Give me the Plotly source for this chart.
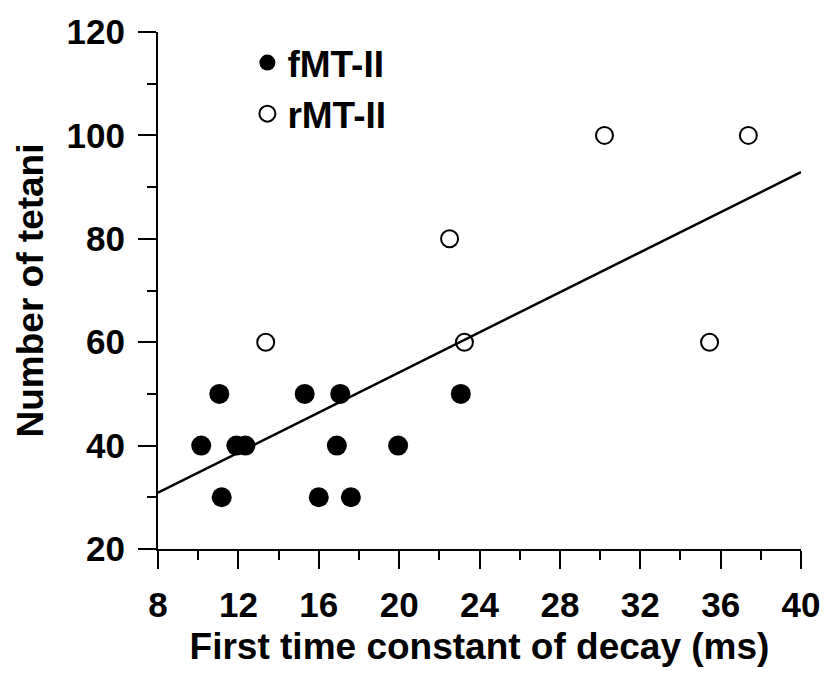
import plotly.graph_objects as go

# fMT-II (filled)
f_x = [11.05, 15.3, 17.07, 23.07, 10.15, 11.9, 12.35, 16.9, 19.95, 11.17, 16.0, 17.6]
f_y = [50, 50, 50, 50, 40, 40, 40, 40, 40, 30, 30, 30]
# rMT-II (open)
r_x = [13.36, 23.25, 35.45, 22.51, 30.22, 37.38]
r_y = [60, 60, 60, 80, 100, 100]
# regression line end points
fit_x = [8, 40]
fit_y = [30.9, 92.9]

x_ticks = [8, 12, 16, 20, 24, 28, 32, 36, 40]
y_ticks = [20, 40, 60, 80, 100, 120]

FONT = "Liberation Sans"

fig = go.Figure()
fig.add_trace(go.Scatter(x=fit_x, y=fit_y, mode="lines",
                         line=dict(color="black", width=2.5), showlegend=False))
fig.add_trace(go.Scatter(x=f_x, y=f_y, mode="markers", name="<b>fMT-II</b>",
                         marker=dict(symbol="circle", size=20, color="black")))
fig.add_trace(go.Scatter(x=r_x, y=r_y, mode="markers", name="<b>rMT-II</b>",
                         marker=dict(symbol="circle-open", size=17, color="black",
                                     line=dict(width=2, color="black"))))

axis_common = dict(showgrid=False, zeroline=False, showline=True, linecolor="black",
                   linewidth=2, ticks="outside", ticklen=18, tickwidth=2,
                   tickcolor="black", mirror=False)

fig.update_xaxes(range=[8, 40], tickvals=x_ticks, ticktext=[f"<b>{v}</b>" for v in x_ticks],
                 tickfont=dict(family=FONT, size=35, color="black"),
                 ticklabelstandoff=6,
                 minor=dict(ticks="outside", ticklen=9, tickwidth=2, tickcolor="black", dtick=2, tick0=8),
                 title=dict(text="<b>First time constant of decay (ms)</b>",
                            font=dict(family=FONT, size=37, color="black"), standoff=10),
                 **axis_common)
fig.update_yaxes(range=[20, 120], tickvals=y_ticks, ticktext=[f"<b>{v}</b>" for v in y_ticks],
                 tickfont=dict(family=FONT, size=35, color="black"),
                 ticklabelstandoff=6,
                 minor=dict(ticks="outside", ticklen=9, tickwidth=2, tickcolor="black", dtick=10, tick0=20),
                 title=dict(text="<b>Number of tetani</b>",
                            font=dict(family=FONT, size=37, color="black"), standoff=12),
                 **axis_common)

fig.update_layout(
    width=832, height=673,
    margin=dict(l=158, r=27, t=29, b=124),
    plot_bgcolor="white", paper_bgcolor="white",
    font=dict(family=FONT, color="black"),
    legend=dict(x=0.139, y=1.0, xanchor="left", yanchor="top",
                font=dict(family=FONT, size=37, color="black"),
                bgcolor="rgba(0,0,0,0)", itemsizing="trace", tracegroupgap=0),
)

fig.write_html("out.html")
